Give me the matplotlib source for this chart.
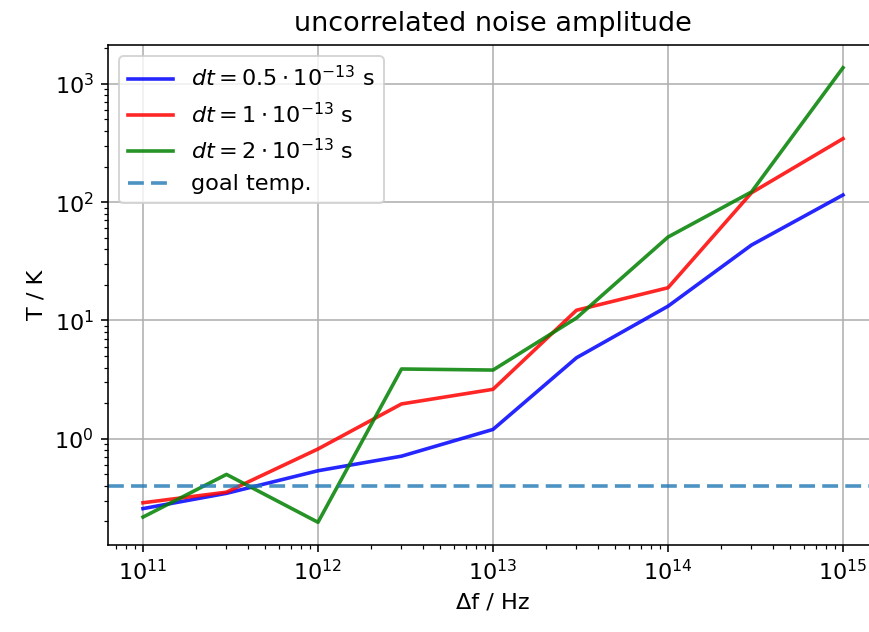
import matplotlib
matplotlib.use("Agg")
import matplotlib.pyplot as plt

freqs = [1e11, 3e11, 1e12, 3e12, 1e13, 3e13, 1e14, 3e14, 1e15]
T_dt05 = [0.257, 0.346, 0.537, 0.713, 1.20, 4.84, 13.2, 43.4, 115]
T_dt1 = [0.288, 0.354, 0.82, 1.97, 2.62, 12.2, 18.9, 120, 344]
T_dt2 = [0.218, 0.50, 0.197, 3.89, 3.81, 10.5, 50.7, 122, 1368]
goal_temp = 0.40

labels = [r"$dt = 0.5\cdot10^{-13}$ s", r"$dt = 1\cdot10^{-13}$ s",
          r"$dt = 2\cdot10^{-13}$ s", "goal temp."]

plt.rcParams["font.size"] = 11.2
plt.rcParams["axes.titlesize"] = 13.5

fig = plt.figure(figsize=(869/144, 632/144), dpi=144)
ax = fig.add_axes([108/869, 87/632, 770/869, 500/632])
lw = 1.8
ax.plot(freqs, T_dt05, color="b", alpha=0.85, lw=lw, label=labels[0])
ax.plot(freqs, T_dt1, color="r", alpha=0.85, lw=lw, label=labels[1])
ax.plot(freqs, T_dt2, color="g", alpha=0.85, lw=lw, label=labels[2])
ax.axhline(goal_temp, color="C0", ls=(0, (4.4, 2.0)), lw=lw, alpha=0.8, label=labels[3])
ax.set_xscale("log")
ax.set_yscale("log")
ax.spines["right"].set_visible(False)
ax.grid(True, which="major")
ax.set_title("uncorrelated noise amplitude", pad=7)
ax.set_xlabel("Δf / Hz")
ax.set_ylabel("T / K")
ax.legend(loc="upper left")
fig.savefig("out.png", dpi=144)
